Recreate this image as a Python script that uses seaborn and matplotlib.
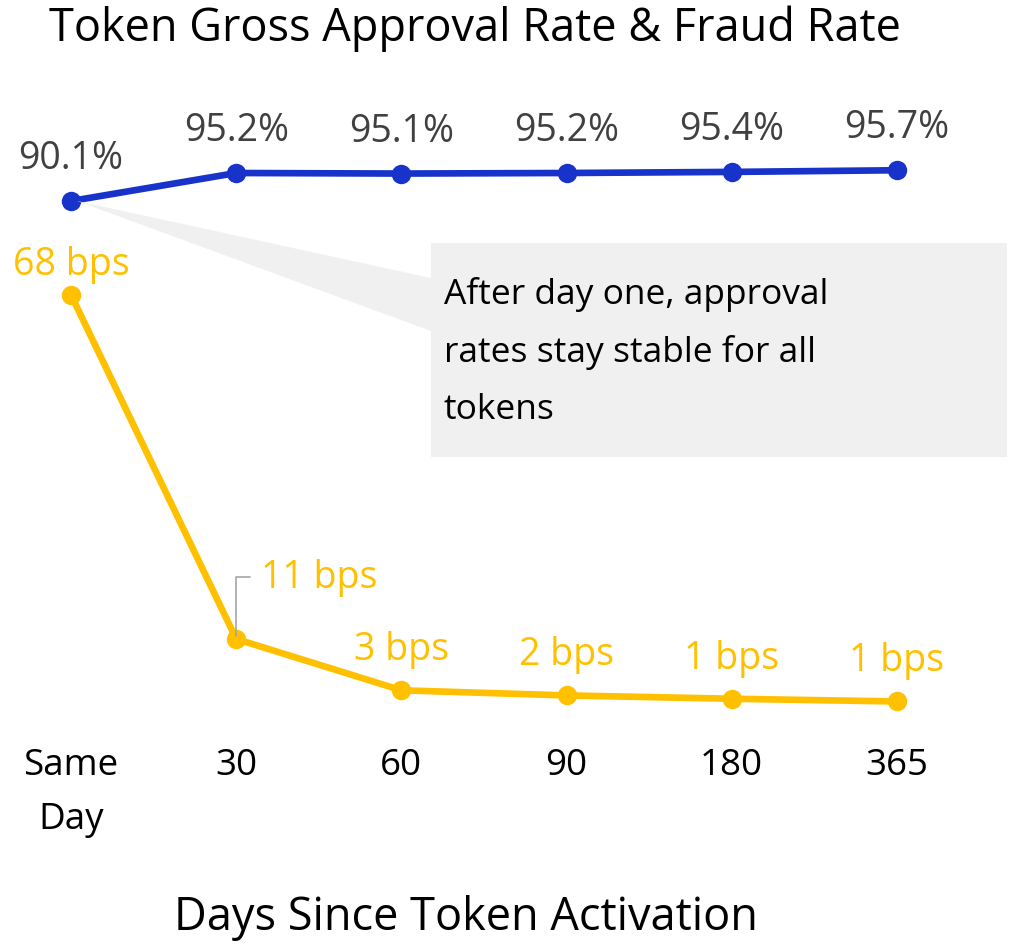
import matplotlib
matplotlib.use("Agg")
import matplotlib.pyplot as plt
import numpy as np
import pandas as pd
import seaborn as sns
from matplotlib.patches import Polygon, Rectangle

# values
days = ["Same\nDay", "30", "60", "90", "180", "365"]
approval_pct = [90.1, 95.2, 95.1, 95.2, 95.4, 95.7]
fraud_bps = [68.0, 11.0, 2.5, 1.65, 1.1, 0.65]
approval_labels = ["90.1%", "95.2%", "95.1%", "95.2%", "95.4%", "95.7%"]
fraud_labels = ["68 bps", "11 bps", "3 bps", "2 bps", "1 bps", "1 bps"]

BLUE = "#1733C9"
GOLD = "#FFC000"
LABEL_GREY = "#404040"
FONT = "Open Sans"

sns.set_theme(style="white")
plt.rcParams["font.family"] = [FONT, "DejaVu Sans"]

df = pd.DataFrame({"x": np.arange(len(days)), "approval": approval_pct, "fraud": fraud_bps})

W, H = 1012, 945
fig = plt.figure(figsize=(W / 100, H / 100), dpi=100)
ax = fig.add_axes([5 / W, (H - 740) / H, 958 / W, 640 / H])
ax2 = ax.twinx()

sns.lineplot(data=df, x="x", y="fraud", ax=ax, color=GOLD, lw=4.8,
             marker="o", markersize=14, markeredgewidth=0, zorder=3)
sns.lineplot(data=df, x="x", y="approval", ax=ax2, color=BLUE, lw=4.8,
             marker="o", markersize=14, markeredgewidth=0, zorder=3)

ax.set_xlim(-0.4, 5.4)
ax.set_ylim(-5.57, 100.48)
ax2.set_ylim(-7.9, 108.68)

for a in (ax, ax2):
    for s in a.spines.values():
        s.set_visible(False)
    a.set_yticks([])
    a.set_ylabel("")
    a.set_xlabel("")
ax.set_xticks(df["x"])
ax.set_xticklabels(days, fontsize=26.5, color="black", linespacing=1.65)
ax.tick_params(axis="x", length=0, pad=6)

# data labels
LBL = 27
for i, (v, lab) in enumerate(zip(approval_pct, approval_labels)):
    ax2.annotate(lab, (i, v), xytext=(0, 43), textcoords="offset pixels",
                 ha="center", va="center", fontsize=LBL, color=LABEL_GREY)

for i, (v, lab) in enumerate(zip(fraud_bps, fraud_labels)):
    if i == 1:
        ax.annotate(lab, (i, v), xytext=(25, 62), textcoords="offset pixels",
                    ha="left", va="center", fontsize=LBL, color=GOLD,
                    arrowprops=dict(arrowstyle="-", color="#A6A6A6", lw=1.2,
                                    connectionstyle="angle,angleA=0,angleB=90,rad=0",
                                    shrinkA=6, shrinkB=2))
    else:
        off = 31 if i == 0 else 41
        ax.annotate(lab, (i, v), xytext=(0, off), textcoords="offset pixels",
                    ha="center", va="center", fontsize=LBL, color=GOLD)

# callout box with wedge pointing at the first approval point
fig.canvas.draw()
apex = ax2.transData.transform((0, approval_pct[0]))
apex = fig.transFigure.inverted().transform(apex)
box_l, box_r, box_t, box_b = 431, 1007, 244, 458
wedge = Polygon([[apex[0] + 6 / W, apex[1]],
                 [box_l / W, 1 - 279 / H], [box_l / W, 1 - 332 / H]],
                closed=True, transform=fig.transFigure, facecolor="#F0F0F0",
                edgecolor="none", zorder=0)
box = Rectangle((box_l / W, 1 - box_b / H), (box_r - box_l) / W, (box_b - box_t) / H,
                transform=fig.transFigure, facecolor="#F0F0F0", edgecolor="none", zorder=0)
fig.patches.extend([wedge, box])
fig.text(444 / W, 1 - 352 / H, "After day one, approval\nrates stay stable for all\ntokens",
         ha="left", va="center", fontsize=25.5, color="black", linespacing=1.88)

fig.text(475 / W, 1 - 29 / H, "Token Gross Approval Rate & Fraud Rate",
         ha="center", va="center", fontsize=32.5, color="black")
fig.text(466 / W, 1 - 918 / H, "Days Since Token Activation",
         ha="center", va="center", fontsize=32.5, color="black")

fig.savefig("out.png", dpi=100)
